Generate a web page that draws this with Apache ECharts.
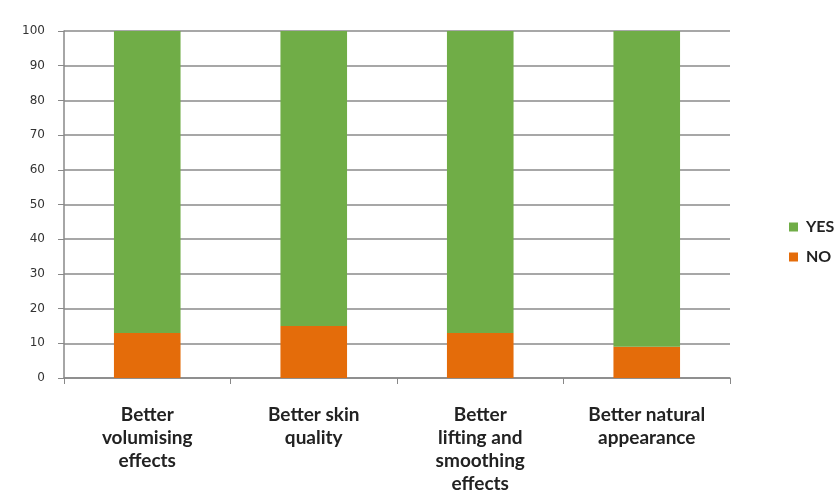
<!DOCTYPE html>
<html>
<head>
<meta charset="utf-8">
<script src="https://cdn.jsdelivr.net/npm/echarts@6/dist/echarts.min.js"></script>
<style>
  html, body { margin: 0; padding: 0; background: #fff; }
  #chart { width: 836px; height: 503px; }
</style>
</head>
<body>
<div id="chart"></div>
<script>
const categories = [
  'Better\nvolumising\neffects',
  'Better skin\nquality',
  'Better\nlifting and\nsmoothing\neffects',
  'Better natural\nappearance'
];
const noValues = [13, 15, 13, 9];
const yesValues = [87, 85, 87, 91];
const yTicks = [0, 10, 20, 30, 40, 50, 60, 70, 80, 90, 100];

const chart = echarts.init(document.getElementById('chart'));
chart.setOption({
  animation: false,
  grid: { left: 64, right: 106, top: 31, bottom: 125 },
  legend: {
    orient: 'vertical',
    left: 784,
    top: 214,
    itemWidth: 9,
    itemHeight: 9,
    itemGap: 14,
    icon: 'rect',
    data: ['YES', 'NO'],
    textStyle: { fontFamily: 'Lato', fontWeight: 'bold', fontSize: 16, color: '#222', padding: [0, 0, 0, 3] }
  },
  xAxis: {
    type: 'category',
    data: categories,
    axisLine: { lineStyle: { color: '#888', width: 1.5 } },
    axisTick: { show: true, length: 6, lineStyle: { color: '#888' } },
    axisLabel: {
      margin: 25,
      interval: 0,
      fontFamily: 'Lato',
      fontWeight: 'bold',
      fontSize: 19,
      lineHeight: 23,
      color: '#222'
    }
  },
  yAxis: {
    type: 'value',
    min: 0,
    max: 100,
    interval: 10,
    axisLine: { show: true, lineStyle: { color: '#888', width: 1.5 } },
    axisTick: { show: true, length: 6, lineStyle: { color: '#888' } },
    splitLine: { lineStyle: { color: '#8a8a8a', width: 1.5 } },
    axisLabel: {
      margin: 19,
      fontFamily: 'DejaVu Sans',
      fontSize: 12,
      color: '#333',
      formatter: v => (yTicks.includes(v) ? String(v) : '')
    }
  },
  series: [
    {
      name: 'NO',
      type: 'bar',
      stack: 'total',
      barWidth: '40%',
      data: noValues,
      itemStyle: { color: '#E46C0A' }
    },
    {
      name: 'YES',
      type: 'bar',
      stack: 'total',
      barWidth: '40%',
      data: yesValues,
      itemStyle: { color: '#70AD47' }
    }
  ]
});
</script>
</body>
</html>
